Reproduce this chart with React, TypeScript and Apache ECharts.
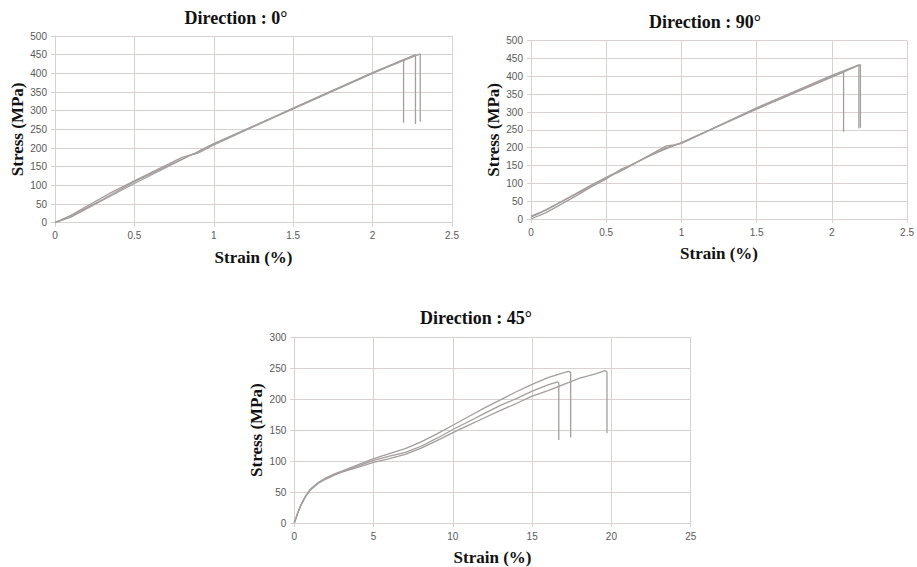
import React, { useEffect, useRef } from "react";
import * as echarts from "echarts";

// Direction 0° curves [strain %, stress MPa]
const dir0A: number[][] = [[0,0],[0.1,18],[0.3,62],[0.5,110],[0.7,150],[0.9,190],[0.92,195],[1,212],[1.5,305],[2,400],[2.195,436],[2.195,268]];
const dir0B: number[][] = [[0,0],[0.1,20],[0.35,80],[0.5,112],[0.8,175],[0.88,185],[1,210],[1.5,307],[2,402],[2.27,450],[2.27,264]];
const dir0C: number[][] = [[0,0],[0.1,15],[0.3,60],[0.5,105],[0.85,180],[0.9,186],[1,208],[1.5,306],[2,401],[2.3,452],[2.3,271]];

// Direction 90° curves
const dir90A: number[][] = [[0,5],[0.05,15],[0.3,70],[0.5,112],[0.6,140],[0.65,148],[0.9,200],[1,213],[1.5,310],[2,400],[2.078,412],[2.078,245]];
const dir90B: number[][] = [[0,0],[0.1,18],[0.3,65],[0.5,115],[0.6,135],[0.9,205],[0.95,208],[1,212],[1.5,312],[2,403],[2.18,432],[2.18,254]];
const dir90C: number[][] = [[0,8],[0.1,25],[0.4,95],[0.5,117],[0.8,180],[1,214],[1.5,308],[2,398],[2.19,433],[2.19,256]];

// Direction 45° curves
const dir45A: number[][] = [[0,0],[0.2,15],[0.4,28],[0.7,43],[1,54],[1.5,65],[2,73],[2.5,79],[3,84],[4,94],[5,104],[6,112],[7,120],[8,131],[9,144],[10,158],[11,172],[12,186],[13,199],[14,212],[15,224],[16,235],[17,243],[17.3,245],[17.43,243],[17.43,138]];
const dir45B: number[][] = [[0,0],[0.2,15],[0.4,28],[0.7,43],[1,54],[1.5,65],[2,72],[2.5,78],[3,83],[4,92],[5,101],[6,108],[7,114],[8,124],[9,137],[10,151],[11,164],[12,177],[13,190],[14,201],[15,213],[16,223],[16.6,228],[16.68,226],[16.68,134]];
const dir45C: number[][] = [[0,0],[0.2,15],[0.4,28],[0.7,42],[1,53],[1.5,64],[2,71],[2.5,77],[3,82],[4,90],[5,98],[6,104],[6.7,109],[7,111],[8,121],[9,133],[10,146],[11,158],[12,170],[13,182],[14,193],[15,205],[16,214],[17,224],[18,234],[19,241],[19.6,246],[19.72,244],[19.72,145]];

const titles = ["Direction : 0°", "Direction : 90°", "Direction : 45°"];
const xName = "Strain (%)";
const yName = "Stress (MPa)";

const GRID = "#d8d1cf";
const LINE = "#a49e9c";
const LABEL = "#595959";
const SERIF = "'Liberation Serif', 'Times New Roman', serif";
const SANS = "'Liberation Sans', Arial, sans-serif";

export default function App() {
  const ref = useRef<HTMLDivElement>(null);
  useEffect(() => {
    document.body.style.margin = "0";
    if (!ref.current) return;
    const chart = echarts.init(ref.current, null, { renderer: "svg" });
    const nameStyle = { fontFamily: SERIF, fontWeight: "bold", fontSize: 17, color: "#111" };
    const mkX = (gi: number, max: number, interval: number) => ({
      type: "value", gridIndex: gi, min: 0, max, interval,
      name: xName, nameLocation: "middle", nameGap: 26,
      nameTextStyle: nameStyle,
      axisLine: { show: true, lineStyle: { color: GRID } },
      axisTick: { show: true, length: 4, lineStyle: { color: GRID } },
      axisLabel: { color: LABEL, fontFamily: SANS, fontSize: 10, margin: 8 },
      splitLine: { show: true, lineStyle: { color: GRID, width: 1 } },
    });
    const mkY = (gi: number, max: number, interval: number) => ({
      type: "value", gridIndex: gi, min: 0, max, interval,
      name: yName, nameLocation: "middle", nameGap: 29,
      nameTextStyle: nameStyle,
      axisLine: { show: true, lineStyle: { color: GRID } },
      axisTick: { show: true, length: 4, lineStyle: { color: GRID } },
      axisLabel: { color: LABEL, fontFamily: SANS, fontSize: 10, margin: 8 },
      splitLine: { show: true, lineStyle: { color: GRID, width: 1 } },
    });
    const mkS = (data: number[][], gi: number) => ({
      type: "line", xAxisIndex: gi, yAxisIndex: gi, data, showSymbol: false,
      lineStyle: { color: LINE, width: 1.3 }, itemStyle: { color: LINE },
    });
    const titleStyle = { fontFamily: SERIF, fontWeight: "bold", fontSize: 18, color: "#111" };
    chart.setOption({
      animation: false,
      backgroundColor: "#ffffff",
      title: [
        { text: titles[0], left: 231, top: 4, textAlign: "center", textStyle: titleStyle },
        { text: titles[1], left: 700, top: 8, textAlign: "center", textStyle: titleStyle },
        { text: titles[2], left: 471, top: 304, textAlign: "center", textStyle: titleStyle },
      ],
      grid: [
        { left: 55, top: 36, width: 397, height: 186.7 },
        { left: 531, top: 40.7, width: 379, height: 178.3 },
        { left: 294.3, top: 337.3, width: 396.4, height: 187.7 },
      ],
      xAxis: [mkX(0, 2.5, 0.5), mkX(1, 2.5, 0.5), mkX(2, 25, 5)],
      yAxis: [mkY(0, 500, 50), mkY(1, 500, 50), mkY(2, 300, 50)],
      series: [
        mkS(dir0A, 0), mkS(dir0B, 0), mkS(dir0C, 0),
        mkS(dir90A, 1), mkS(dir90B, 1), mkS(dir90C, 1),
        mkS(dir45A, 2), mkS(dir45B, 2), mkS(dir45C, 2),
      ],
    });
    return () => chart.dispose();
  }, []);
  return <div ref={ref} style={{ width: 917, height: 567 }} />;
}
